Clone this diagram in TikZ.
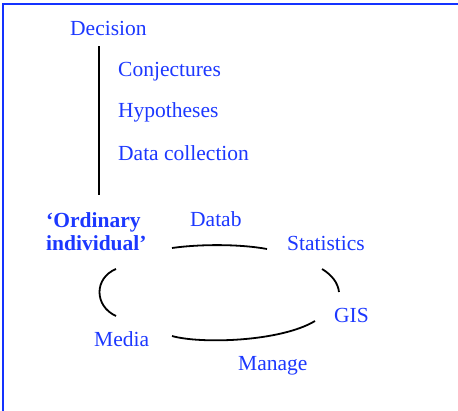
\documentclass[tikz,border=0pt]{standalone}
\usepackage{fontspec}
\setmainfont{Liberation Serif}
\definecolor{txtblue}{RGB}{28,56,255}
\definecolor{frameblue}{RGB}{20,50,255}
\begin{document}
\begin{tikzpicture}[x=1pt,y=-1pt,
  lbl/.style={anchor=base west,inner sep=0pt,text=txtblue,font=\fontsize{21.5}{24}\selectfont},
  arc/.style={draw=black,line width=1.8pt}]
\useasboundingbox (0,0) rectangle (458,410);
\draw[frameblue,line width=2.6pt] (3,412) -- (3,4) -- (460,4);
\node[lbl] (dec) at (70,35) {Decision};
\node[lbl] (conj) at (118,76) {Conjectures};
\node[lbl] (hyp) at (118,117) {Hypotheses};
\node[lbl] (data) at (118,160) {Data collection};
\coordinate (vtop) at (99,46);
\coordinate (vbot) at (99,195);
\draw[arc] (vtop) -- (vbot);
\node[lbl] (ord1) at (46,227) {\bfseries ‘Ordinary};
\node[lbl] (ord2) at (46,250) {\bfseries individual’};
\node[lbl] (datab) at (190,226) {Datab};
\node[lbl] (stat) at (287,250) {Statistics};
\node[lbl] (gis) at (334,322) {GIS};
\node[lbl] (media) at (94,346) {Media};
\node[lbl] (manage) at (238,370) {Manage};
\coordinate (t1) at (172,248);
\coordinate (t2) at (267,249);
\draw[arc] (t1) .. controls (200,244) and (240,244) .. (t2);
\coordinate (l1) at (116,269);
\coordinate (l2) at (116,316);
\draw[arc] (l1) .. controls (94,278) and (94,306) .. (l2);
\coordinate (r1) at (322,269);
\coordinate (r2) at (339,292);
\draw[arc] (r1) .. controls (332,275) and (338,283) .. (r2);
\coordinate (b1) at (172,336);
\coordinate (b2) at (315,321);
\draw[arc] (b1) .. controls (200,344) and (280,342) .. (b2);
\end{tikzpicture}
\end{document}
